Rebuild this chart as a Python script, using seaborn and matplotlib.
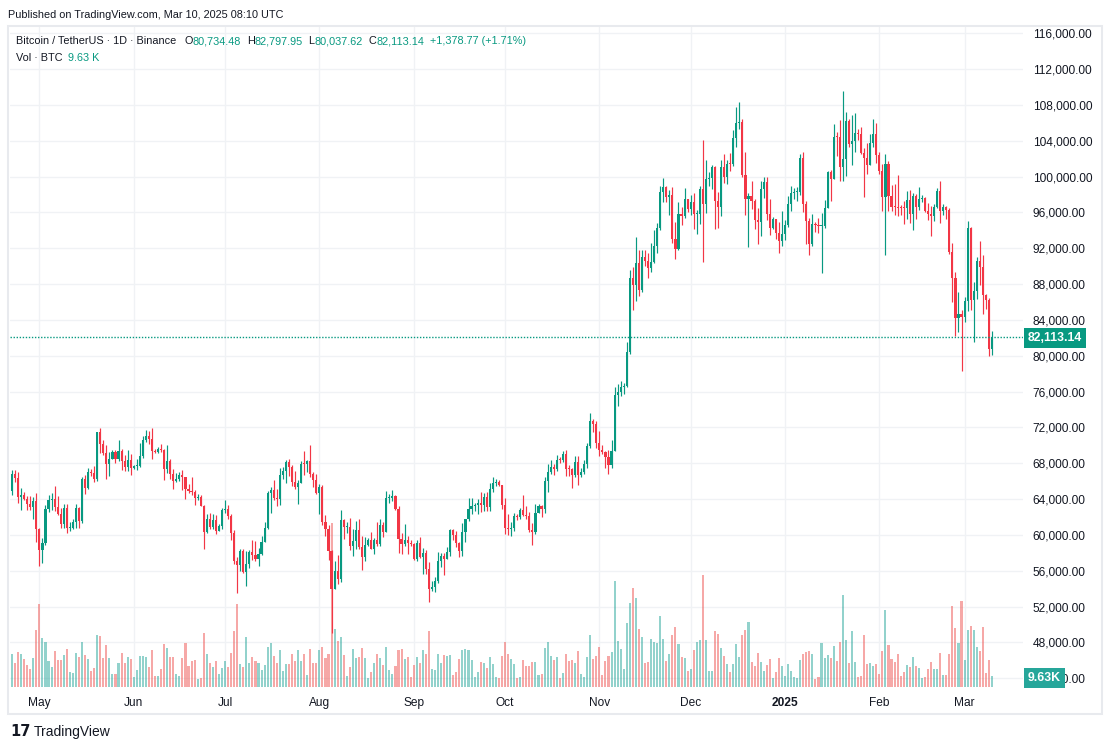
import numpy as np
import pandas as pd
import matplotlib
matplotlib.use("Agg")
import matplotlib.pyplot as plt
import seaborn as sns
from matplotlib.transforms import blended_transform_factory
from matplotlib.patches import Rectangle

# daily BTCUSDT candles, 2024-04-22 .. 2025-03-10
first_open = 64940

apr_c = [66837, 66408, 64276, 64482, 64038, 63427, 63114, 63841, 60672]
apr_h = [67233, 67208, 67075, 65275, 64792, 64400, 64361, 64228, 64734]
apr_l = [64500, 65864, 63589, 62783, 63928, 62793, 62800, 61765, 59191]
apr_v = [29.4, 21.3, 31.2, 29.4, 24.9, 19.5, 15.9, 25.8, 51.0]

may_c = [58364, 59061, 62882, 63892, 64032, 63162, 62334, 61188, 63050, 60793, 60804, 61464, 62954, 61580, 66225, 65232,
         67051, 66940, 66278, 71446, 70136, 69122, 67929, 68526, 69265, 68518, 69394, 68296, 67578, 68364, 67491]
may_h = [60780, 59625, 63320, 64500, 64646, 65500, 64400, 63000, 63422, 63460, 61500, 61820, 63450, 63100, 66500, 66700,
         67450, 67400, 67700, 71500, 71980, 70630, 70090, 69220, 69500, 69500, 70600, 69560, 68900, 69500, 69000]
may_l = [56552, 56911, 58849, 62555, 62822, 62700, 62250, 60800, 60750, 60187, 60492, 60628, 60750, 60800, 61300, 64600,
         65100, 66600, 65900, 66000, 69160, 68900, 66300, 66600, 68500, 68000, 68230, 67200, 67100, 67100, 66670]
may_v = [74.5, 43.8, 40.2, 23.1, 17.7, 32.1, 24.0, 24.0, 28.5, 33.9, 13.2, 12.3, 30.3, 26.7, 40.2, 28.5,
         24.9, 14.1, 16.8, 46.5, 45.6, 25.8, 37.5, 25.8, 11.4, 11.4, 21.3, 30.3, 21.3, 26.7, 24.9]

jun_c = [67706, 67751, 68805, 70567, 71082, 70757, 69342, 69305, 69648, 69508, 67321, 68244, 66756, 66011, 66191,
         66639, 66490, 65140, 64960, 64828, 64096, 64253, 63180, 60277, 61805, 60864, 61706, 60427, 60986, 62772]
jun_h = [67860, 68440, 70280, 71060, 71760, 71600, 71980, 69560, 69850, 70150, 69560, 69990, 68450, 67320, 66900,
         66990, 67200, 66500, 65730, 66480, 65070, 64520, 64480, 63370, 62290, 62480, 62370, 62190, 61210, 63000]
jun_l = [67400, 67300, 67600, 68550, 70380, 70120, 68500, 69200, 69130, 69230, 66100, 66900, 66300, 65080, 65900,
         66000, 65070, 64060, 64690, 64510, 63370, 63930, 63180, 58400, 60240, 60710, 60610, 60060, 60390, 60680]
jun_v = [8.7, 15.0, 27.6, 27.6, 26.7, 17.7, 33.0, 9.6, 9.6, 15.9, 38.4, 34.8, 26.7, 26.7, 11.4,
         9.6, 25.8, 39.3, 18.6, 23.1, 24.0, 6.9, 7.8, 48.3, 29.4, 21.3, 17.7, 23.1, 11.4, 16.8]

jul_c = [62900, 62100, 60208, 57050, 56628, 58231, 55857, 56714, 58050, 57725, 57340, 57880, 59205, 60798, 64724, 65044,
         64088, 63987, 66660, 67139, 68165, 67532, 65936, 65372, 65777, 67907, 67896, 68249, 66784, 66188, 64628]
jul_h = [63860, 63290, 62300, 60500, 57500, 58470, 58470, 58240, 58300, 59470, 59370, 58500, 59850, 61420, 64900, 65390,
         66130, 65100, 67440, 67600, 68370, 68480, 67800, 67100, 66170, 68200, 69400, 68320, 70080, 66990, 66850]
jul_l = [62500, 61800, 59420, 56770, 53500, 56000, 55720, 54260, 56300, 57160, 57050, 56550, 57760, 59190, 60630, 62400,
         63860, 63220, 63300, 66230, 65750, 66570, 65440, 65100, 63450, 65750, 66700, 67060, 66480, 65300, 64530]
jul_v = [23.1, 17.7, 30.3, 50.1, 74.5, 20.4, 17.7, 44.7, 22.0, 27.0, 23.0, 22.0, 15.0, 19.5, 35.7, 39.3,
         27.6, 21.3, 33.0, 14.1, 20.4, 20.4, 29.4, 23.1, 33.0, 23.1, 29.4, 10.5, 33.9, 21.3, 21.3]

aug_c = [65354, 61498, 60697, 58161, 54018, 56022, 55134, 61686, 60837, 60924, 58712, 59346, 60587, 58683, 57541, 58874,
         59491, 58427, 59438, 59013, 61157, 60381, 64094, 64178, 64333, 62880, 59504, 59027, 59388, 59119, 58974]
aug_h = [65660, 65600, 62200, 61100, 58306, 57040, 57720, 62750, 61750, 61470, 61850, 60680, 61570, 61800, 59850, 59820,
         59690, 60280, 59620, 61430, 61820, 61420, 64960, 64520, 65000, 64480, 63220, 60230, 61190, 59900, 59450]
aug_l = [62300, 61100, 59850, 57200, 49000, 53970, 54560, 54730, 59570, 60240, 58290, 57640, 58410, 58430, 56080, 57100,
         58780, 58420, 57860, 58790, 58780, 59720, 60340, 63540, 63780, 62800, 58030, 57860, 58750, 57870, 58740]
aug_v = [33.0, 35.7, 25.8, 29.4, 148.0, 52.0, 41.0, 44.7, 28.5, 9.6, 17.7, 34.0, 25.8, 26.7, 34.8, 25.8,
         7.8, 13.2, 21.3, 29.4, 25.8, 19.5, 35.7, 15.0, 11.4, 18.6, 33.0, 33.9, 24.9, 26.7, 8.7]

sep_c = [57302, 59132, 57487, 57970, 56180, 53962, 54160, 54869, 57042, 57635, 57339, 58132, 60498, 59993, 59132,
         58213, 60309, 61759, 62947, 63201, 63348, 63578, 63339, 64262, 63152, 65173, 65769, 65858, 65602, 63327]
sep_h = [59080, 59430, 59810, 58520, 58330, 57010, 54850, 55320, 58100, 58040, 57990, 58600, 60670, 60630, 60390,
         59210, 61380, 61790, 64130, 64130, 63560, 64000, 64750, 64690, 64820, 65840, 66500, 66260, 66080, 65620]
sep_l = [57200, 57130, 57420, 55600, 55650, 52550, 53740, 53630, 54600, 56380, 55550, 57300, 57630, 59450, 58700,
         57490, 57610, 59170, 61560, 62350, 62700, 62360, 62580, 62700, 62670, 62670, 64820, 65420, 65420, 62850]
sep_v = [19.5, 26.7, 21.3, 33.0, 30.0, 50.0, 15.9, 15.0, 30.0, 22.0, 28.5, 27.6, 28.5, 10.5, 13.2,
         25.0, 33.0, 34.0, 33.0, 24.0, 8.7, 13.2, 22.5, 21.6, 17.1, 27.0, 20.7, 9.0, 8.1, 27.9]

oct_c = [60805, 60649, 60752, 62086, 62058, 62819, 62224, 62131, 60583, 60275, 62445, 63193, 62851, 66046, 67041, 67612,
         67399, 68418, 68363, 69001, 67367, 67363, 66653, 68161, 66642, 67014, 67929, 69907, 72720, 72340, 70215]
oct_h = [64130, 62390, 61470, 62480, 62370, 62980, 64480, 63200, 62540, 61330, 63400, 63480, 63300, 66500, 67950, 68420,
         67940, 68970, 68700, 69400, 69520, 67840, 67450, 68850, 68770, 67450, 68330, 70270, 73620, 72960, 72700]
oct_l = [60160, 59980, 59830, 60460, 61680, 61830, 62130, 61820, 60300, 58900, 60050, 62450, 62050, 62430, 64800, 66750,
         66660, 67150, 68030, 68100, 66570, 66570, 65260, 66450, 65520, 66430, 66770, 67520, 69730, 71440, 69680]
oct_v = [40.5, 29.7, 25.2, 20.7, 8.1, 9.0, 24.3, 18.9, 18.9, 22.5, 22.5, 10.8, 11.7, 35.1, 40.5, 27.9,
         24.3, 27.0, 8.1, 12.6, 29.7, 23.4, 24.3, 21.6, 32.4, 11.7, 9.0, 27.0, 46.8, 25.2, 27.9]

nov_c = [69482, 69289, 68741, 67811, 69359, 75640, 75905, 76538, 76649, 80370, 88647, 87952, 90375, 87325, 91032,
         90587, 89855, 90464, 92310, 94286, 98318, 98892, 97672, 97900, 93010, 91965, 95864, 95643, 97460, 96407]
nov_h = [71630, 70000, 69400, 69480, 70580, 76460, 76850, 77200, 76950, 81500, 89530, 89950, 93265, 91790, 91850,
         91780, 91450, 92600, 94000, 94840, 98990, 99800, 98900, 98560, 98870, 94970, 97210, 96650, 98690, 97500]
nov_l = [68820, 69020, 67460, 66800, 67460, 69320, 74410, 75560, 75770, 76490, 80220, 85070, 86130, 86670, 87070,
         90060, 88720, 89380, 90370, 91500, 94020, 97190, 97150, 95760, 92600, 90790, 91810, 94650, 95380, 96000]
nov_v = [36.0, 10.8, 23.4, 27.9, 31.5, 95.5, 41.4, 34.2, 16.2, 57.7, 75.7, 89.2, 80.2, 52.3, 45.0,
         21.6, 22.5, 43.2, 40.5, 39.6, 64.0, 43.2, 23.4, 29.7, 46.8, 54.0, 38.7, 27.0, 26.1, 14.4]

dec_c = [97185, 95840, 95849, 98587, 96945, 99740, 99831, 101109, 97276, 96593, 101125, 100001, 101424, 101420, 104298,
         106030, 106140, 100204, 97462, 97805, 97291, 95187, 94881, 98663, 99430, 95792, 94300, 95300, 93738, 92792, 93576]
dec_h = [98000, 98130, 96300, 99000, 104088, 101900, 100550, 101350, 101215, 98270, 101890, 102540, 101900, 102650, 105250,
         107780, 108353, 106470, 102800, 98150, 99540, 97450, 96540, 99500, 99960, 99960, 97540, 95530, 95310, 94900, 96150]
dec_l = [95750, 94200, 93580, 94660, 90500, 95980, 98990, 98650, 94150, 94260, 95620, 99310, 99200, 100610, 101230,
         103330, 105320, 100000, 95670, 92130, 96400, 94200, 92520, 93400, 97590, 95130, 93530, 94100, 93000, 91530, 92300]
dec_v = [16.2, 33.3, 40.5, 42.3, 100.9, 42.3, 14.4, 14.4, 50.5, 47.7, 35.1, 27.9, 20.7, 13.5, 20.7,
         38.7, 27.0, 46.8, 51.4, 58.6, 22.5, 18.9, 30.6, 22.5, 14.4, 19.8, 25.2, 8.1, 13.5, 26.1, 18.9]

jan_c = [94592, 96984, 98174, 98236, 98315, 102078, 96922, 95043, 92484, 94701, 94566, 94488, 94516, 96534, 100504,
         99756, 104462, 104408, 101089, 102016, 106159, 103653, 103960, 104819, 104714, 102682, 102087, 101332, 103733,
         104722, 102429]
jan_h = [95150, 97840, 98980, 98730, 98810, 102480, 102720, 97260, 95350, 95840, 94980, 95380, 95900, 97370, 100680,
         100780, 105865, 104990, 106300, 109588, 107240, 106400, 106850, 107100, 105290, 105500, 103220, 103780, 104800,
         106460, 106012]
jan_l = [92880, 94410, 96180, 97530, 97270, 97920, 96100, 92500, 91200, 92200, 93830, 93700, 89256, 94300, 96500,
         97300, 99700, 102280, 99500, 99550, 100120, 103340, 101260, 102750, 104110, 102520, 97780, 100280, 101300,
         103300, 101560]
jan_v = [9.9, 20.7, 14.4, 9.0, 8.1, 24.3, 29.7, 31.5, 32.4, 29.7, 7.2, 9.0, 39.6, 26.1, 28.8,
         26.1, 36.9, 23.4, 40.5, 82.9, 42.3, 21.6, 50.5, 22.5, 9.0, 9.9, 46.8, 20.7, 21.6, 18.9, 20.7]

feb_c = [100635, 97700, 101406, 97871, 96615, 96593, 96530, 96482, 96465, 97430, 95778, 97869, 96608, 97500, 97569,
         96118, 95780, 95629, 96608, 98345, 96181, 96555, 96273, 91552, 88680, 84250, 84708, 84349]
feb_h = [102783, 101456, 102500, 101745, 99120, 99200, 100140, 96880, 97330, 98350, 98500, 98120, 98100, 98830, 97970,
         97730, 97040, 96740, 96900, 98760, 99500, 96950, 96670, 96500, 92540, 89300, 87080, 85120]
feb_l = [100280, 96150, 91231, 96150, 96155, 95700, 95620, 95690, 94750, 95260, 94850, 94090, 95220, 96250, 97220,
         96050, 95200, 93390, 95100, 96500, 94850, 95770, 95250, 91350, 86050, 82260, 82700, 78258]
feb_v = [11.7, 32.4, 69.4, 37.8, 25.2, 22.5, 29.7, 9.9, 13.5, 19.8, 18.0, 27.0, 18.9, 17.1, 8.1,
         9.0, 16.2, 22.5, 16.2, 16.2, 30.6, 10.8, 10.8, 29.7, 73.0, 53.2, 39.6, 77.5]

mar_c = [86064, 94270, 86220, 87281, 90606, 89931, 86801, 86222, 80734.48, 82113.14]
mar_h = [86560, 95000, 94420, 88200, 91000, 92810, 91280, 86880, 86500, 82797.95]
mar_l = [83820, 85050, 85080, 81500, 86300, 87850, 84670, 85250, 80000, 80037.62]
mar_v = [24.3, 51.4, 55.0, 51.4, 36.0, 32.4, 54.0, 12.6, 24.3, 9.63]

month_labels = ["May", "Jun", "Jul", "Aug", "Sep", "Oct", "Nov", "Dec", "2025", "Feb", "Mar"]
price_ticks = list(range(44000, 116001, 4000))

close = apr_c + may_c + jun_c + jul_c + aug_c + sep_c + oct_c + nov_c + dec_c + jan_c + feb_c + mar_c
high = apr_h + may_h + jun_h + jul_h + aug_h + sep_h + oct_h + nov_h + dec_h + jan_h + feb_h + mar_h
low = apr_l + may_l + jun_l + jul_l + aug_l + sep_l + oct_l + nov_l + dec_l + jan_l + feb_l + mar_l
vol = apr_v + may_v + jun_v + jul_v + aug_v + sep_v + oct_v + nov_v + dec_v + jan_v + feb_v + mar_v

df = pd.DataFrame({"close": close, "high": high, "low": low, "vol": vol})
df["open"] = [first_open] + close[:-1]
df["date"] = pd.date_range("2024-04-22", periods=len(df), freq="D")
df["idx"] = np.arange(len(df))
df["dir"] = np.where(df["close"] >= df["open"], "up", "down")

UP, DOWN = "#089981", "#f23645"
TXT = "#131722"

sns.set_theme(style="white")
plt.rcParams["font.family"] = ["Liberation Sans", "DejaVu Sans"]

W, H = 1112, 750
fig = plt.figure(figsize=(W / 100, H / 100), dpi=100)
rect = [10 / W, 1 - 687 / H, (1023 - 10) / W, (687 - 27) / H]
ax = fig.add_axes(rect)                         # grid + price scale
vax = fig.add_axes(rect, sharex=ax)             # volume
cax = fig.add_axes(rect, sharex=ax, sharey=ax)  # candles
ax.set_zorder(0)
vax.set_zorder(1)
cax.set_zorder(2)

# volume
sns.barplot(data=df, x="idx", y="vol", hue="dir", palette={"up": "#26a69a", "down": "#ef5350"},
            native_scale=True, dodge=False, width=0.68, errorbar=None, legend=False,
            saturation=1, alpha=0.5, linewidth=0, ax=vax)
vax.set_ylim(0, 594)

# candles
cols = np.where(df["dir"] == "up", UP, DOWN)
body = (df["close"] - df["open"]).abs().clip(lower=110)
bottom = df[["open", "close"]].min(axis=1)
cax.vlines(df["idx"], df["low"], df["high"], colors=cols, lw=0.85)
cax.bar(df["idx"], body, bottom=bottom, width=0.7, color=cols, linewidth=0)
cax.axhline(close[-1], color=UP, lw=1, ls=(0, (1, 1.2)))

ax.set_xlim(-0.66, 332.2)
ax.set_ylim(43026, 116703)

month_pos = df.index[(df["date"].dt.day == 1)].tolist()
ax.set_xticks(month_pos)
ax.set_xticklabels(month_labels)
for t in ax.get_xticklabels():
    if t.get_text() == "2025":
        t.set_fontweight("bold")
ax.set_yticks(price_ticks)
ax.set_yticklabels([f"{v:,.2f}" for v in price_ticks])
ax.yaxis.tick_right()
ax.tick_params(axis="x", length=0, pad=7, labelsize=8.6, labelcolor=TXT)
ax.tick_params(axis="y", length=0, pad=7, labelsize=8.6, labelcolor=TXT)
ax.grid(True, color="#f0f2f5", lw=1)
ax.set_xlabel("")
ax.set_ylabel("")
for s in ax.spines.values():
    s.set_visible(False)
vax.axis("off")
cax.axis("off")

# last value badges
bt = blended_transform_factory(cax.transAxes, cax.transData)
cax.text(1 + 5 / 1013, close[-1], f"{close[-1]:,.2f}", transform=bt, ha="left", va="center_baseline",
         color="white", fontsize=8.8, fontweight="bold", clip_on=False, zorder=10,
         bbox=dict(boxstyle="square,pad=0.32", fc=UP, ec="none"))
vt = blended_transform_factory(cax.transAxes, vax.transData)
cax.text(1 + 5 / 1013, vol[-1], f"{vol[-1]:.2f}K", transform=vt, ha="left", va="center_baseline",
         color="white", fontsize=8.8, fontweight="bold", clip_on=False, zorder=10,
         bbox=dict(boxstyle="square,pad=0.32", fc="#26a69a", ec="none"))

# frame
fig.add_artist(Rectangle((8 / W, 1 - 714 / H), 1094 / W, 688 / H, transform=fig.transFigure,
                         fill=False, ec="#e8eaee", lw=1.5))

# header / legend
HS = 7.8
fig.text(8 / W, 1 - 15 / H, "Published on TradingView.com, Mar 10, 2025 08:10 UTC", fontsize=HS,
         color=TXT, va="center", ha="left")


def chain(parts, x, y):
    prev = fig.text(x, y, parts[0][0], color=parts[0][1], fontsize=HS, va="center", ha="left")
    for s, c, gap in parts[1:]:
        prev = cax.annotate(s, xy=(1, 0), xycoords=prev, xytext=(gap, 0), textcoords="offset points",
                            color=c, fontsize=HS, va="bottom", ha="left", annotation_clip=False)
    return prev


chain([("Bitcoin / TetherUS · 1D · Binance", TXT),
       ("O", TXT, 6), ("80,734.48", UP, 0), ("H", TXT, 4), ("82,797.95", UP, 0),
       ("L", TXT, 4), ("80,037.62", UP, 0), ("C", TXT, 4), ("82,113.14", UP, 0),
       ("+1,378.77 (+1.71%)", UP, 4)], 16 / W, 1 - 41 / H)
chain([("Vol · BTC", TXT), ("9.63 K", UP, 4)], 16 / W, 1 - 58 / H)

# footer logo
fig.text(10 / W, 1 - 732 / H, "17", fontsize=10.5, fontweight="bold", color=TXT, va="center",
         family="DejaVu Sans")
fig.text(34 / W, 1 - 732 / H, "TradingView", fontsize=10, color=TXT, va="center")

fig.savefig("out.png", dpi=100)
